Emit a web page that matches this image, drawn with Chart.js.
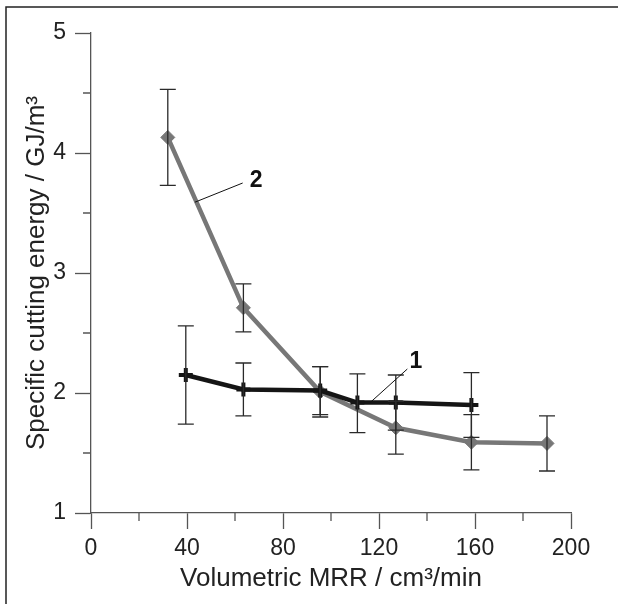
<!DOCTYPE html>
<html>
<head>
<meta charset="utf-8">
<script src="https://cdn.jsdelivr.net/npm/chart.js@4"></script>
<style>
  html, body { margin: 0; padding: 0; background: #fff; }
  #wrap { width: 618px; height: 604px; position: relative; }
</style>
</head>
<body>
<div id="wrap"><canvas id="energyChart"></canvas></div>
<script>
// series 1 (black, crosses)
const mrr1 = [39.5, 63.5, 95.5, 111, 127, 158.5];
const energy1 = [2.15, 2.03, 2.02, 1.92, 1.92, 1.90];
const upper1 = [2.56, 2.25, 2.22, 2.16, 2.15, 2.17];
const lower1 = [1.74, 1.81, 1.82, 1.67, 1.69, 1.63];

// series 2 (grey, diamonds)
const mrr2 = [32, 63.5, 95.5, 127, 158.5, 190];
const energy2 = [4.13, 2.71, 2.01, 1.71, 1.59, 1.58];
const upper2 = [4.53, 2.91, 2.22, 1.93, 1.82, 1.81];
const lower2 = [3.73, 2.51, 1.80, 1.49, 1.36, 1.35];

// curve labels: text, label position, leader line start/end (data units)
const curveLabels = [
  { text: '2', at: [68.8, 3.77], from: [63.2, 3.75], to: [43.3, 3.59] },
  { text: '1', at: [135.4, 2.26], from: [131.8, 2.20], to: [116.3, 1.92] }
];

const FONT = "'Liberation Sans', Arial, Helvetica, sans-serif";
const AXIS = '#555';

function toPoints(xs, ys) {
  return xs.map((x, i) => ({ x: x, y: ys[i] }));
}

// error bars with caps
const errorBars = {
  id: 'errorBars',
  afterDatasetsDraw(chart) {
    const { ctx, scales: { x, y } } = chart;
    const sets = [[mrr1, upper1, lower1], [mrr2, upper2, lower2]];
    ctx.save();
    ctx.strokeStyle = '#2a2a2a';
    ctx.lineWidth = 1.3;
    sets.forEach(([xs, hi, lo]) => {
      xs.forEach((v, i) => {
        const px = x.getPixelForValue(v);
        const top = y.getPixelForValue(hi[i]);
        const bot = y.getPixelForValue(lo[i]);
        ctx.beginPath();
        ctx.moveTo(px, top); ctx.lineTo(px, bot);
        ctx.moveTo(px - 8, top); ctx.lineTo(px + 8, top);
        ctx.moveTo(px - 8, bot); ctx.lineTo(px + 8, bot);
        ctx.stroke();
      });
    });
    ctx.restore();
  }
};

// minor ticks, curve labels and the frame
const extras = {
  id: 'extras',
  beforeDraw(chart) {
    const ctx = chart.ctx;
    ctx.save();
    ctx.strokeStyle = '#222';
    ctx.lineWidth = 1.5;
    ctx.beginPath();
    ctx.moveTo(6, chart.height);
    ctx.lineTo(6, 7);
    ctx.lineTo(chart.width, 7);
    ctx.stroke();
    ctx.restore();
  },
  afterDraw(chart) {
    const { ctx, scales: { x, y } } = chart;
    ctx.save();
    ctx.strokeStyle = AXIS;
    ctx.lineWidth = 1.3;
    ctx.beginPath();
    for (let v = 20; v < 200; v += 40) {
      const px = x.getPixelForValue(v);
      ctx.moveTo(px, y.bottom); ctx.lineTo(px, y.bottom + 8);
    }
    for (let v = 1.5; v < 5; v += 1) {
      const py = y.getPixelForValue(v);
      ctx.moveTo(x.left, py); ctx.lineTo(x.left - 8, py);
    }
    ctx.stroke();

    ctx.strokeStyle = '#111';
    ctx.lineWidth = 1;
    ctx.fillStyle = '#111';
    ctx.font = 'bold 23px ' + FONT;
    ctx.textAlign = 'center';
    ctx.textBaseline = 'middle';
    curveLabels.forEach(l => {
      ctx.beginPath();
      ctx.moveTo(x.getPixelForValue(l.from[0]), y.getPixelForValue(l.from[1]));
      ctx.lineTo(x.getPixelForValue(l.to[0]), y.getPixelForValue(l.to[1]));
      ctx.stroke();
      ctx.fillText(l.text, x.getPixelForValue(l.at[0]), y.getPixelForValue(l.at[1]));
    });
    ctx.restore();
  }
};

const dataEnergy = {
  datasets: [
    {
      label: '1',
      data: toPoints(mrr1, energy1),
      borderColor: '#151515',
      backgroundColor: '#151515',
      borderWidth: 4.5,
      pointStyle: 'cross',
      pointRadius: 7,
      pointBorderWidth: 4,
      order: 1
    },
    {
      label: '2',
      data: toPoints(mrr2, energy2),
      borderColor: '#777',
      backgroundColor: '#777',
      borderWidth: 4.5,
      pointStyle: 'rectRot',
      pointRadius: 7,
      pointBorderWidth: 1,
      order: 2
    }
  ]
};

const configEnergy = {
  type: 'line',
  data: dataEnergy,
  options: {
    responsive: true,
    maintainAspectRatio: false,
    animation: false,
    layout: { padding: { left: 0, top: 33, right: 47, bottom: 0 } },
    plugins: {
      legend: { display: false },
      tooltip: { enabled: false }
    },
    elements: { line: { tension: 0 } },
    scales: {
      x: {
        type: 'linear',
        min: 0,
        max: 200,
        ticks: { stepSize: 40, color: '#222', padding: 6, maxRotation: 0, font: { family: FONT, size: 23 } },
        grid: { drawOnChartArea: false, drawTicks: true, tickLength: 16, tickColor: AXIS, tickWidth: 1.3 },
        border: { display: true, color: AXIS, width: 1.3 },
        title: { display: true, text: 'Volumetric MRR / cm³/min', color: '#222', padding: { top: 0, bottom: 10 }, font: { family: FONT, size: 26 } },
        afterFit: (s) => { s.height = 91; }
      },
      y: {
        type: 'linear',
        min: 1,
        max: 5,
        ticks: { stepSize: 1, color: '#222', padding: 9, font: { family: FONT, size: 23 } },
        grid: { drawOnChartArea: false, drawTicks: true, tickLength: 16, tickColor: AXIS, tickWidth: 1.3 },
        border: { display: true, color: AXIS, width: 1.3 },
        title: { display: true, text: 'Specific cutting energy / GJ/m³', color: '#222', padding: { top: 21, bottom: 0 }, font: { family: FONT, size: 26 } },
        afterFit: (s) => { s.width = 91; }
      }
    }
  },
  plugins: [errorBars, extras]
};

let energyChart = new Chart(document.getElementById('energyChart'), configEnergy);
</script>
</body>
</html>
